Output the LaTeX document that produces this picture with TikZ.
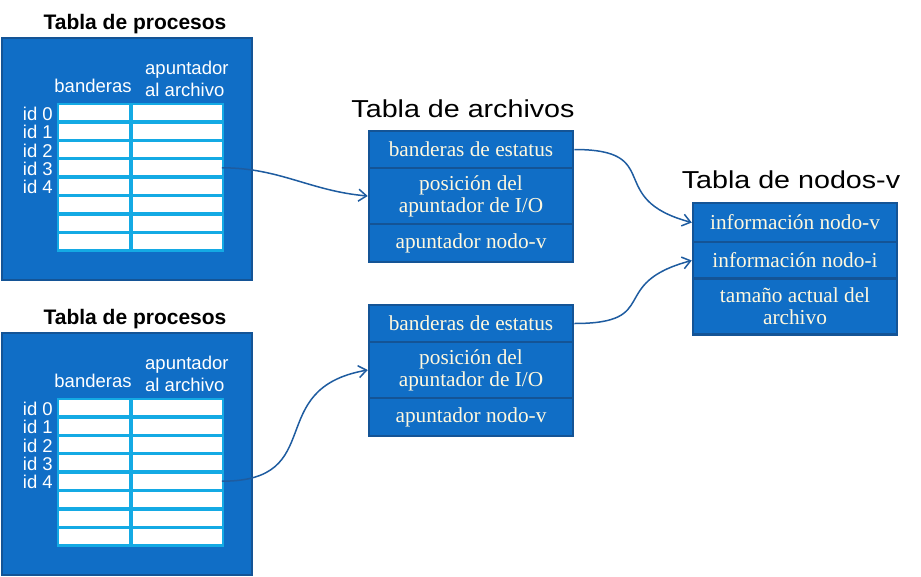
\documentclass[tikz,border=0pt]{standalone}
\usepackage{fontspec}
\setmainfont{Liberation Serif}
\newfontfamily\arialfont{Liberation Sans}
\newfontfamily\titlefont[FakeStretch=1.17]{Liberation Sans}
\usetikzlibrary{arrows.meta}
\definecolor{boxblue}{RGB}{16,110,198}
\definecolor{edgeblue}{RGB}{20,84,150}
\definecolor{gridcyan}{RGB}{20,170,228}
\definecolor{arrowblue}{RGB}{30,92,160}
\definecolor{cream}{RGB}{255,248,222}
\tikzset{
 procbox/.style={fill=boxblue, draw=edgeblue, line width=2pt, minimum width=250pt, minimum height=242pt, inner sep=0pt},
 gridbg/.style={fill=gridcyan, minimum width=167pt, minimum height=149pt, inner sep=0pt},
 cell/.style={fill=white, minimum height=15pt, inner sep=0pt},
 proctitle/.style={font=\arialfont\bfseries\fontsize{21}{24}\selectfont, inner sep=0pt, anchor=base},
 plabel/.style={font=\arialfont\fontsize{18.5}{22.7}\selectfont, text=white, inner sep=0pt},
 bigtitle/.style={font=\titlefont\fontsize{24.5}{28}\selectfont, inner sep=0pt, anchor=base},
 frow/.style={fill=boxblue, draw=edgeblue, line width=2.5pt, minimum width=204pt, inner sep=0pt, text=cream, align=center, font=\fontsize{21.3}{22}\selectfont},
 link/.style={draw=arrowblue, line width=1.5pt, -{Straight Barb[length=8pt,width=12pt]}},
}
\newcommand\proctable[2]{%
 \begin{scope}[shift={(0,#2)}]
 \node[proctitle] (#1title) at (135,29) {Tabla de procesos};
 \node[procbox] (#1box) at (127,159) {};
 \node[gridbg] (#1grid) at (140.5,177.5) {};
 \foreach \i in {0,...,7}{
  \node[cell, minimum width=70pt] (#1a\i) at (94.3,{112.6+18.4*\i}) {};
  \node[cell, minimum width=89pt] (#1b\i) at (177.2,{112.6+18.4*\i}) {};
 }
 \foreach \i in {0,...,4}{
  \node[plabel, anchor=base east] (#1id\i) at (53,{120.5+18.3*\i}) {id \i};
 }
 \node[plabel, anchor=base] (#1flags) at (93,92.7) {banderas};
 \node[plabel, anchor=base west] (#1ptr) at (145,74) {\begin{tabular}[t]{@{}l@{}}apuntador\\al archivo\end{tabular}};
 \end{scope}}
\newcommand\filetable[2]{%
 \begin{scope}[shift={(0,#2)}]
 \node[frow, minimum height=37pt] (#11) at (471,149.5) {banderas de estatus};
 \node[frow, minimum height=56pt] (#12) at (471,196) {posición del\\apuntador de I/O};
 \node[frow, minimum height=38pt] (#13) at (471,243) {apuntador nodo-v};
 \end{scope}}
\begin{document}
\begin{tikzpicture}[x=1pt,y=-1pt]
\useasboundingbox (0,0) rectangle (921,576);
\proctable{pa}{0}
\proctable{pb}{295}
\node[bigtitle] (ftitle) at (463,117) {Tabla de archivos};
\filetable{fa}{0}
\filetable{fb}{174}
\node[bigtitle] (vtitle) at (791,188) {Tabla de nodos-v};
\node[frow, minimum height=39pt] (nv1) at (795,222.5) {información nodo-v};
\node[frow, minimum height=37pt] (nv2) at (795,260.5) {información nodo-i};
\node[frow, minimum height=56pt] (nv3) at (795,306.5) {tamaño actual del\\archivo};
\draw[link] (pab3.east) to[out=0,in=175] (fa2.west);
\draw[link] (fa1.east) to[out=0,in=165,looseness=1.7] (nv1.west);
\draw[link] (fb1.east) to[out=0,in=195,looseness=1.7] (nv2.west);
\draw[link] (pbb4.east) to[out=0,in=190,looseness=1.5] (fb2.west);
\end{tikzpicture}
\end{document}
